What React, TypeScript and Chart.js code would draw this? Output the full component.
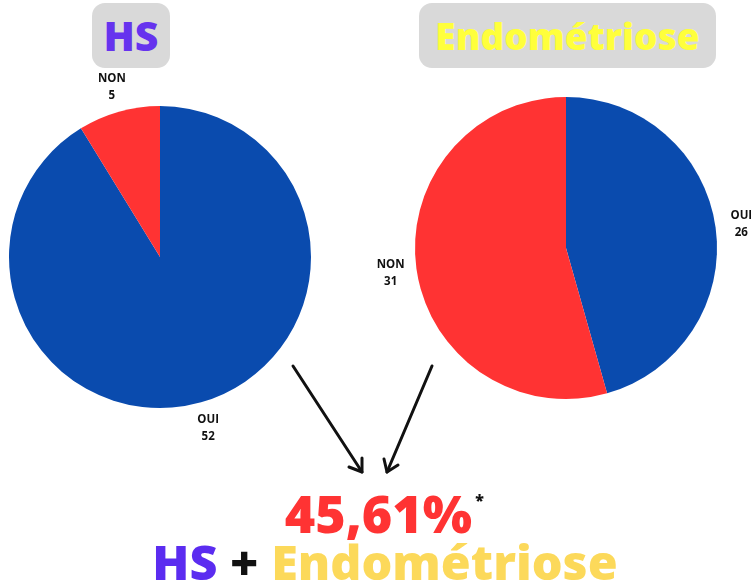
import React, { useEffect, useRef } from "react";
import { Chart, registerables } from "chart.js";

Chart.register(...registerables);

// ---- data ----
const categories: string[] = ["OUI", "NON"];
const hsValues: number[] = [52, 5];
const endoValues: number[] = [26, 31];
const sliceColors: string[] = ["#0a4bae", "#ff3333"];
const chartTitles: string[] = ["HS", "Endométriose"];
const resultText = "45,61%";

const FONT = "'Open Sans', 'DejaVu Sans', sans-serif";

const outerLabels = {
  id: "outerLabels",
  afterDatasetsDraw(chart: any) {
    const ctx = chart.ctx;
    const meta = chart.getDatasetMeta(0);
    const ds = chart.data.datasets[0];
    ctx.save();
    ctx.font = `bold 11.5px ${FONT}`;
    ctx.fillStyle = "#111111";
    ctx.textAlign = "center";
    ctx.textBaseline = "middle";
    meta.data.forEach((arc: any, i: number) => {
      const p = arc.getProps(["x", "y", "startAngle", "endAngle", "outerRadius"], true);
      const mid = (p.startAngle + p.endAngle) / 2;
      const r = p.outerRadius + 26;
      const x = p.x + Math.cos(mid) * r;
      const y = p.y + Math.sin(mid) * r;
      ctx.fillText(String(chart.data.labels[i]), x, y - 8);
      ctx.fillText(String(ds.data[i]), x, y + 9);
    });
    ctx.restore();
  },
};

type PieProps = {
  values: number[];
  left: number;
  top: number;
  width: number;
  height: number;
  padding: { left: number; right: number; top: number; bottom: number };
};

function PieChart({ values, left, top, width, height, padding }: PieProps) {
  const ref = useRef<HTMLCanvasElement | null>(null);
  useEffect(() => {
    if (!ref.current) return;
    const chart = new Chart(ref.current, {
      type: "pie",
      data: {
        labels: categories,
        datasets: [
          {
            data: values,
            backgroundColor: sliceColors,
            borderWidth: 0,
          },
        ],
      },
      options: {
        responsive: false,
        animation: false,
        devicePixelRatio: 1,
        layout: { padding },
        plugins: {
          legend: { display: false },
          tooltip: { enabled: false },
        },
      },
      plugins: [outerLabels],
    });
    return () => chart.destroy();
  }, []);
  return (
    <canvas
      ref={ref}
      width={width}
      height={height}
      style={{ position: "absolute", left, top, width, height }}
    />
  );
}

export default function App() {
  return (
    <div
      style={{
        position: "fixed",
        left: 0,
        top: 0,
        width: 751,
        height: 583,
        background: "#ffffff",
        overflow: "hidden",
        fontFamily: FONT,
      }}
    >
      {/* title boxes */}
      <div
        style={{
          position: "absolute",
          left: 92,
          top: 3,
          width: 78,
          height: 65,
          background: "#d9d9d9",
          borderRadius: 13,
          display: "flex",
          alignItems: "center",
          justifyContent: "center",
          color: "#6633ee",
          fontWeight: 800,
          fontSize: 41,
          lineHeight: 1,
        }}
      >
        {chartTitles[0]}
      </div>
      <div
        style={{
          position: "absolute",
          left: 419,
          top: 3,
          width: 297,
          height: 65,
          background: "#d9d9d9",
          borderRadius: 13,
          display: "flex",
          alignItems: "center",
          justifyContent: "center",
          color: "#ffff3b",
          fontWeight: 800,
          fontSize: 37,
          lineHeight: 1,
        }}
      >
        {chartTitles[1]}
      </div>

      <PieChart
        values={hsValues}
        left={0}
        top={60}
        width={370}
        height={400}
        padding={{ left: 9, right: 59, top: 46, bottom: 52 }}
      />
      <PieChart
        values={endoValues}
        left={350}
        top={60}
        width={401}
        height={400}
        padding={{ left: 65, right: 34, top: 37, bottom: 61 }}
      />

      {/* arrows */}
      <svg
        width={751}
        height={583}
        style={{ position: "absolute", left: 0, top: 0, pointerEvents: "none" }}
      >
        <g stroke="#111111" strokeWidth={3} fill="none" strokeLinecap="round" strokeLinejoin="round">
          <line x1={293} y1={366} x2={362} y2={472} />
          <polyline points="349,467 362,472 362,458" />
          <line x1={432} y1={366} x2={387} y2={472} />
          <polyline points="384,459 387,472 398,465" />
        </g>
      </svg>

      {/* result text */}
      <div
        style={{
          position: "absolute",
          left: 0,
          width: 751,
          top: 483,
          textAlign: "center",
          color: "#ff3333",
          fontWeight: 800,
          fontSize: 52,
          lineHeight: "60px",
        }}
      >
        <span style={{ position: "relative", left: 3 }}>
          {resultText}
          <span
            style={{
              position: "absolute",
              left: "100%",
              top: 8,
              marginLeft: 3,
              color: "#111111",
              fontSize: 16,
              lineHeight: "30px",
            }}
          >
            *
          </span>
        </span>
      </div>
      <div
        style={{
          position: "absolute",
          left: 0,
          width: 770,
          top: 531,
          textAlign: "center",
          fontWeight: 800,
          fontSize: 48.5,
          lineHeight: "60px",
          whiteSpace: "nowrap",
        }}
      >
        <span style={{ color: "#5b2cf0" }}>{chartTitles[0]}</span>
        <span style={{ color: "#111111" }}> + </span>
        <span style={{ color: "#fcd95a" }}>{chartTitles[1]}</span>
      </div>
    </div>
  );
}
